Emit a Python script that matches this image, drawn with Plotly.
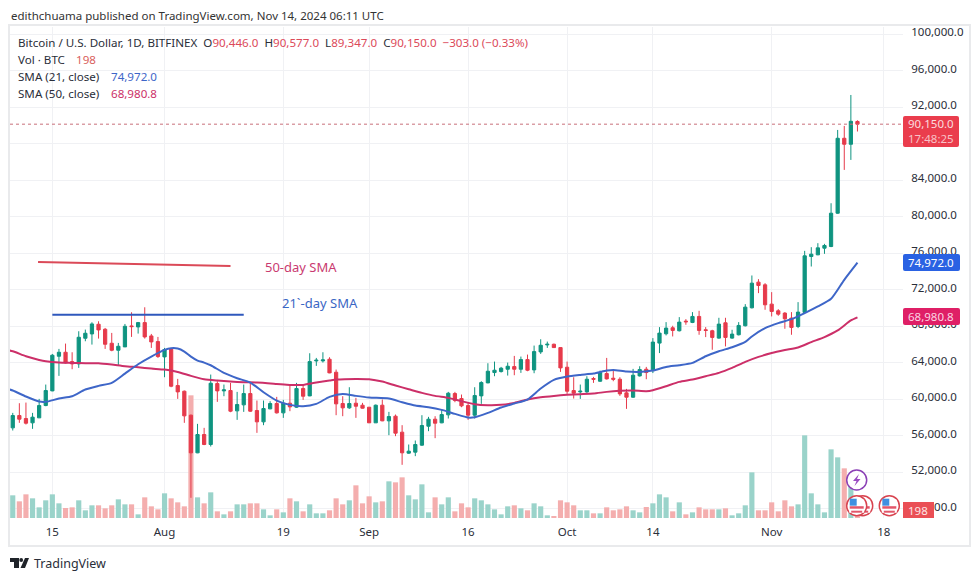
import plotly.graph_objects as go
import pandas as pd

START_DATE = "2024-07-09"
opens = [56870,58220,57890,57420,57965,59315,60920,64718,65155,64133,63878,66688,67163,68222,67674,66141,65375,65740,68040,67930,68404,66944,66323,64645,65520,61505,60885,58257,54132,56140,55045,61725,60920,60960,58732,59388,60630,58768,57527,58950,59535,58512,59570,59133,61177,60374,64206,64206,64389,62966,59535,59060,59570,59352,59133,57420,59352,57637,58148,56395,54096,54205,54972,57052,57819,57420,58294,60630,60082,59315,58257,60374,61798,62929,63039,63294,63586,63294,64352,63221,65192,65958,66032,65666,63513,60958,60812,60812,62272,61980,62820,62308,62199,60703,60228,62564,63294,63238,66158,67180,67837,67508,68567,68421,69078,67618,67508,66705,68384,66705,67070,68056,70027,72838,72545,70428,69698,69443,68895,67983,69516,75648,75830,76560,76743,80393,88605,87948,90446]
highs = [58510,59570,59640,58510,60045,61615,64970,65520,66105,65155,67455,67638,68440,68550,67820,67273,66178,68258,69535,68477,70083,67163,66835,65630,65630,62235,60960,58330,57308,56870,62710,61980,61615,61798,60812,61615,61798,59863,59863,59790,60265,59936,61505,61798,61615,65046,64535,65155,64608,63258,60337,61323,60155,59607,59133,59425,59973,58622,58330,57162,55045,55483,58257,58075,58148,58878,60812,60812,60520,59607,61323,61980,63951,64133,63550,64024,64754,64681,64900,65885,66579,66323,66105,65666,64133,62418,61615,62528,62455,63148,64535,63148,62418,61140,63330,63622,63550,66706,67910,68457,68056,69005,68786,69553,69698,67910,67618,68932,68932,67618,68457,70428,73568,73166,72728,71743,69880,69553,69553,70648,76268,76670,77108,77035,81488,89518,89956,93350,90577]
lows = [56580,57420,57235,56760,57965,59240,60885,62564,63915,63294,63440,66360,65995,66652,65520,65265,63732,65740,66835,67200,66652,65630,64535,62418,61323,60045,57420,49205,54096,54972,54826,59717,60337,58585,57746,58622,58622,56322,57162,58914,58440,57965,58695,59060,59936,60337,63659,64024,62856,58257,58148,58950,57965,58987,57420,57420,57600,56067,55958,52818,54023,53768,54900,56505,55739,57381,57892,59680,59133,57746,57892,59498,61761,62528,62929,62600,62637,62893,63075,62856,64973,65630,65630,63002,60593,60082,60045,60703,61798,61907,62163,61980,60374,58950,60155,62491,62199,62873,65063,66998,66888,67435,68165,68348,67070,66815,65428,66632,65793,66632,66998,67983,69954,71633,69808,69078,69151,67728,67070,67800,69443,74553,75794,75940,76670,80320,85138,86233,89347]
closes = [58220,57820,57380,58040,59315,60960,64827,65155,63987,63878,66798,67236,68258,67601,66032,65375,65812,68000,67966,68404,66835,66287,64681,65448,61432,60812,58184,54132,56140,55045,61761,60920,61031,58695,59425,60630,58695,57527,58987,59535,58512,59570,59170,61177,60337,64133,64280,64316,62893,59498,59060,59535,59240,59023,57420,59352,57637,58111,56286,54132,54315,55045,57126,57819,57381,58330,60666,59863,59279,58257,60411,61834,63075,63185,63404,63622,63294,64352,63185,65228,65922,66032,65666,63440,60885,60666,60885,62199,62199,62929,62235,62199,60593,60228,62637,63258,62929,66268,67253,67800,67545,68457,68494,69078,67545,67545,66778,68238,66778,67143,68092,70100,72728,72473,70355,69625,69333,68822,67873,69553,75721,75903,76597,76853,80393,88605,87948,90467,90150]
volumes = [1034,760,1079,897,486,806,1079,669,456,486,806,350,578,578,441,578,851,623,623,167,942,532,395,1125,897,714,532,5594,942,669,1170,304,167,304,623,623,669,669,395,122,395,258,897,760,304,623,213,213,350,897,623,806,1490,669,988,714,760,1672,1626,1854,1034,851,1535,258,942,623,942,304,669,486,897,806,623,395,167,532,578,441,350,669,532,122,76,806,714,578,350,350,213,213,486,350,395,532,350,258,502,669,1079,942,304,714,167,258,486,395,395,395,441,122,213,578,2082,350,350,714,304,806,532,623,3770,1125,623,258,3131,2766,2265,1490,198]

sma21_days = [0,1,3,5,6,8,10,12,14,16,18,20,22,24,25,26,27,28,29,30,31,33,35,37,39,41,43,45,47,49,51,53,55,58,60,62,64,66,68,70,71,73,75,77,79,81,83,85,87,89,91,92,94,96,98,100,102,104,106,108,110,112,113,115,117,119,121,123,125,127,129]
sma21_vals = [61177,60958,60301,59754,59717,60082,60337,61067,61469,61797,62820,63841,64681,65411,65593,65557,65228,64681,64243,64024,63732,62893,62309,61834,60775,59863,59388,59242,59498,60265,60593,60374,60192,60082,59680,59315,59133,58841,58403,58002,58038,58512,59096,59535,59973,61177,62126,62491,62674,62820,63148,63221,63039,63002,63148,63550,63732,63987,64718,65265,65703,66287,66888,67800,68348,68786,69443,70173,71013,73093,74972]
sma50_days = [0,1,3,5,6,8,10,12,14,16,18,20,22,24,26,28,30,32,34,36,38,41,43,45,47,49,50,53,55,57,59,61,63,65,67,69,71,73,75,77,79,81,83,85,87,89,91,93,95,97,98,100,102,104,106,108,110,112,114,116,118,120,122,124,126,128,129]
sma50_vals = [65411,65265,64718,64316,64170,64024,63987,63951,63951,63805,63623,63513,63367,63258,62998,62564,62199,62053,61944,61871,61834,61688,61579,61579,61834,62053,62163,62236,62199,61944,61506,61104,60703,60374,60155,59790,59462,59352,59389,59608,59973,60228,60374,60484,60557,60630,60812,60922,60958,60885,60995,61433,61907,62163,62528,62893,63440,64097,64644,65063,65392,65683,66268,66815,67545,68640,68981]

price_ticks = list(range(48000, 100001, 4000))
time_tick_dates = ["2024-07-15","2024-08-01","2024-08-19","2024-09-01","2024-09-16","2024-10-01","2024-10-14","2024-11-01","2024-11-18"]
time_tick_labels = ["15","Aug","19","Sep","16","Oct","14","Nov","18"]

trend50_dates = ["2024-07-12 20:00","2024-08-11 00:00"]
trend50_prices = [75050,74600]
trend21_dates = ["2024-07-15 00:00","2024-08-13 00:00"]
trend21_prices = [69270,69270]

GREEN, RED = "#0f9480", "#e63a4b"
VOL_G, VOL_R = "#9ad3ca", "#f4aeae"
BLUE, PINK = "#3e66c8", "#cc2f68"
FONT = "Noto Sans"

L, R, T, B = 10, 903, 27, 518
def X(p): return (p - L) / (R - L)
def Y(p): return 1 - (p - T) / (B - T)

dates = pd.date_range(START_DATE, periods=len(closes), freq="D")
base = pd.Timestamp(START_DATE)
def day(d): return [base + pd.Timedelta(days=i - 1) for i in d]

fig = go.Figure()
fig.add_trace(go.Bar(x=dates, y=volumes, yaxis="y", hoverinfo="skip", showlegend=False,
    marker=dict(color=[VOL_G if c >= o else VOL_R for o, c in zip(opens, closes)], line_width=0)))
fig.add_trace(go.Candlestick(x=dates, open=opens, high=highs, low=lows, close=closes, yaxis="y2",
    showlegend=False, hoverinfo="skip",
    increasing=dict(line=dict(color=GREEN, width=1), fillcolor=GREEN),
    decreasing=dict(line=dict(color=RED, width=1), fillcolor=RED)))
fig.add_trace(go.Scatter(x=day(sma50_days), y=sma50_vals, yaxis="y2", mode="lines", hoverinfo="skip", showlegend=False,
    line=dict(color=PINK, width=2, shape="spline", smoothing=0.6)))
fig.add_trace(go.Scatter(x=day(sma21_days), y=sma21_vals, yaxis="y2", mode="lines", hoverinfo="skip", showlegend=False,
    line=dict(color=BLUE, width=2, shape="spline", smoothing=0.6)))
fig.add_trace(go.Scatter(x=trend50_dates, y=trend50_prices, yaxis="y2", mode="lines", hoverinfo="skip", showlegend=False,
    line=dict(color="#db4a58", width=2)))
fig.add_trace(go.Scatter(x=trend21_dates, y=trend21_prices, yaxis="y2", mode="lines", hoverinfo="skip", showlegend=False,
    line=dict(color="#2f58bd", width=2)))

shapes, ann = [], []

def rrect(x0, y0, x1, y1, color, r=2):
    xa, xb, ya, yb = X(x0), X(x1), Y(y0), Y(y1)
    rx, ry = r / (R - L), r / (B - T)
    path = (f"M{xa+rx},{ya} L{xb-rx},{ya} Q{xb},{ya} {xb},{ya-ry} L{xb},{yb+ry} Q{xb},{yb} {xb-rx},{yb} "
            f"L{xa+rx},{yb} Q{xa},{yb} {xa},{yb+ry} L{xa},{ya-ry} Q{xa},{ya} {xa+rx},{ya} Z")
    shapes.append(dict(type="path", path=path, xref="paper", yref="paper", fillcolor=color, line_width=0, layer="above"))

def rect(x0, y0, x1, y1, color, layer="above"):
    shapes.append(dict(type="rect", xref="paper", yref="paper", x0=X(x0), x1=X(x1), y0=Y(y0), y1=Y(y1),
                       fillcolor=color, line_width=0, layer=layer))

def poly(pts, color):
    path = "M" + " L".join(f"{X(a)},{Y(b)}" for a, b in pts) + " Z"
    shapes.append(dict(type="path", path=path, xref="paper", yref="paper", fillcolor=color, line_width=0, layer="above"))

def circle(cx, cy, r, fill, line, w):
    shapes.append(dict(type="circle", xref="paper", yref="paper", x0=X(cx - r), x1=X(cx + r), y0=Y(cy + r), y1=Y(cy - r),
                       fillcolor=fill, line=dict(color=line, width=w), layer="above"))

def text(px, py, s, size=11.5, color="#2a2e39", anchor="left"):
    ann.append(dict(xref="paper", yref="paper", x=X(px), y=Y(py), text=s, showarrow=False, xanchor=anchor, yanchor="middle",
                    font=dict(family=FONT, size=size, color=color), align="left"))

# outer frame
shapes.append(dict(type="rect", xref="paper", yref="paper", x0=X(9), x1=X(970), y0=Y(546), y1=Y(25),
                   line=dict(color="#e9eaec", width=2), fillcolor="rgba(0,0,0,0)", layer="below"))
# last price line
shapes.append(dict(type="line", xref="paper", yref="y2", x0=0, x1=1, y0=closes[-1], y1=closes[-1],
                   line=dict(color="#c9707a", width=1, dash="dot"), layer="above"))

# price tags
rrect(903, 116, 959, 147, "#ea3d4d")
text(931, 123.5, "90,150.0", 11.5, "#fbdcdf", "center")
text(931, 138.5, "17:48:25", 11.5, "#f8c2c7", "center")
rrect(903, 254, 960, 271, "#2a62e3")
text(931, 262, "74,972.0", 11.5, "#ffffff", "center")
rrect(903, 308, 960, 325, "#df1f66")
text(931, 316, "68,980.8", 11.5, "#fbd6e3", "center")
rect(903, 502, 934, 518, "#ea4f55")
text(918, 510, "198", 11.5, "#fde5e5", "center")

# event icons
for cx in (862.7, 856.7, 889.3):
    cy = 505.7
    circle(cx, cy, 10, "#ffffff", "#d8434f", 1.5)
    rect(cx - 7.5, cy - 6, cx + 7.5, cy + 7, "#ffffff")
    rect(cx - 7, cy + 0.5, cx + 7, cy + 3, "#e2566a")
    rect(cx - 5.5, cy + 5, cx + 5.5, cy + 7, "#e2566a")
    rect(cx - 7, cy - 7, cx, cy + 0, "#3f8fe0")
circle(856.7, 480, 10, "#ffffff", "#8a3fb5", 1.5)
poly([(859, 474), (853, 481), (856.5, 481), (854.5, 486), (860.5, 479), (857, 479)], "#9a4cc2")

# header and legend
text(8.5, 15, "edithchuama published on TradingView.com, Nov 14, 2024 06:11 UTC", 11.5, "#333333")
R_T = '<span style="color:#dc4a5a">%s</span>'
text(15.5, 42, "Bitcoin / U.S. Dollar, 1D, BITFINEX  O" + R_T % "90,446.0" + "  H" + R_T % "90,577.0" + "  L" + R_T % "89,347.0"
     + "  C" + R_T % "90,150.0" + "  " + R_T % "−303.0 (−0.33%)", 11.6, "#2a2e39")
text(15.5, 59, "Vol · BTC", 11.6)
text(73.5, 59, "198", 11.6, "#d9605c")
text(15.5, 76, "SMA (21, close)", 11.6)
text(108.5, 76, "74,972.0", 11.6, "#3e66c8")
text(15.5, 93, "SMA (50, close)", 11.6)
text(108.5, 93, "68,980.8", 11.6, "#cc2f68")

# hand annotations
text(262.5, 267, "50-day SMA", 13, "#c93a70")
text(279.5, 303, "21`-day SMA", 13, "#3a66c4")

# footer logo and word mark
poly([(10, 558), (19, 558), (19, 568), (14, 568), (14, 562), (10, 562)], "#1f2329")
circle(21.2, 560, 1.9, "#1f2329", "#1f2329", 0)
poly([(25, 558), (29, 558), (25, 568), (20.5, 568)], "#1f2329")
text(32, 563, "TradingView", 12.5, "#2a2e39")

fig.update_layout(
    width=980, height=581, autosize=False, paper_bgcolor="#ffffff", plot_bgcolor="#ffffff",
    margin=dict(l=L, r=980 - R, t=T, b=581 - B, autoexpand=False),
    font=dict(family=FONT, size=11.5, color="#2a2e39"),
    bargap=0.22, showlegend=False, shapes=shapes, annotations=ann,
    xaxis=dict(type="date", range=["2024-07-08 14:00", "2024-11-20 21:36"], rangeslider=dict(visible=False),
               tickmode="array", tickvals=time_tick_dates, ticktext=time_tick_labels, showgrid=True, gridcolor="#f0f1f4",
               gridwidth=1, zeroline=False, showline=False, ticks="outside", ticklen=3, tickcolor="rgba(0,0,0,0)",
               tickfont=dict(size=11.5, color="#2a2e39")),
    yaxis=dict(range=[0, 22390], showgrid=False, showticklabels=False, zeroline=False, ticks=""),
    yaxis2=dict(overlaying="y", side="right", range=[46990, 100800], tickmode="array", tickvals=price_ticks,
                tickformat=",.1f", showgrid=True, gridcolor="#f0f1f4", gridwidth=1, zeroline=False, showline=False,
                ticks="outside", ticklen=5, tickcolor="rgba(0,0,0,0)", ticklabelshift=-2,
                tickfont=dict(size=11.5, color="#2a2e39")),
)
fig.write_html("out.html", config=dict(displayModeBar=False),
               post_script="document.body.style.margin='0';document.body.style.overflow='hidden';")
